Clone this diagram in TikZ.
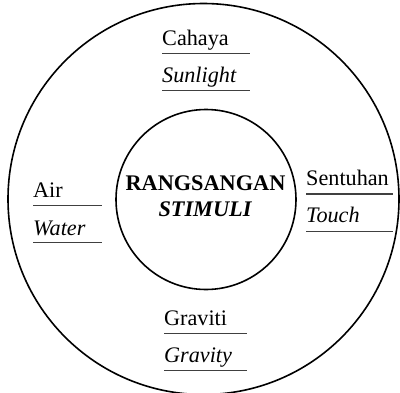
\documentclass[tikz,border=0pt]{standalone}
\usepackage{fontspec}
\setmainfont{Liberation Serif}
\newfontfamily\tnr{Liberation Serif}
\begin{document}
\begin{tikzpicture}[x=1pt,y=-1pt,
  lbl/.style={anchor=base west,inner sep=0pt,font=\tnr\fontsize{22.2}{24}\selectfont},
  uline/.style={line width=1.3pt,draw=black!75},
  ring/.style={line width=1.6pt,draw=black}]
\useasboundingbox (0,0) rectangle (400,392);
\draw[ring] (203.5,199) circle (195.5);
\node[ring,circle,minimum size=180,inner sep=0] (inner) at (206,199.5) {};
\node[anchor=base,inner sep=0,font=\tnr\fontsize{22.3}{24}\selectfont\bfseries] (rs) at (205.5,190) {RANGSANGAN};
\node[anchor=base,inner sep=0,font=\tnr\fontsize{22.3}{24}\selectfont\bfseries\itshape] (st) at (205,216) {STIMULI};
% top
\node[lbl] (cah) at (162,45) {Cahaya};
\draw[uline] (162,53.3) -- (250,53.3);
\node[lbl] (sun) at (162,82) {\itshape Sunlight};
\draw[uline] (162,90.7) -- (250,90.7);
% left
\node[lbl] (air) at (33,197) {Air};
\draw[uline] (33,205.7) -- (102,205.7);
\node[lbl] (wat) at (33,235) {\itshape Water};
\draw[uline] (33,242.7) -- (102,242.7);
% right
\node[lbl] (sen) at (306,185.7) {Sentuhan};
\draw[uline] (306,194) -- (393,194);
\node[lbl] (tou) at (306,222.7) {\itshape Touch};
\draw[uline] (306,231.3) -- (393,231.3);
% bottom
\node[lbl] (gra) at (164,325) {Graviti};
\draw[uline] (164,333.3) -- (247,333.3);
\node[lbl] (grv) at (164,362.7) {\itshape Gravity};
\draw[uline] (164,370.7) -- (247,370.7);
\end{tikzpicture}
\end{document}
